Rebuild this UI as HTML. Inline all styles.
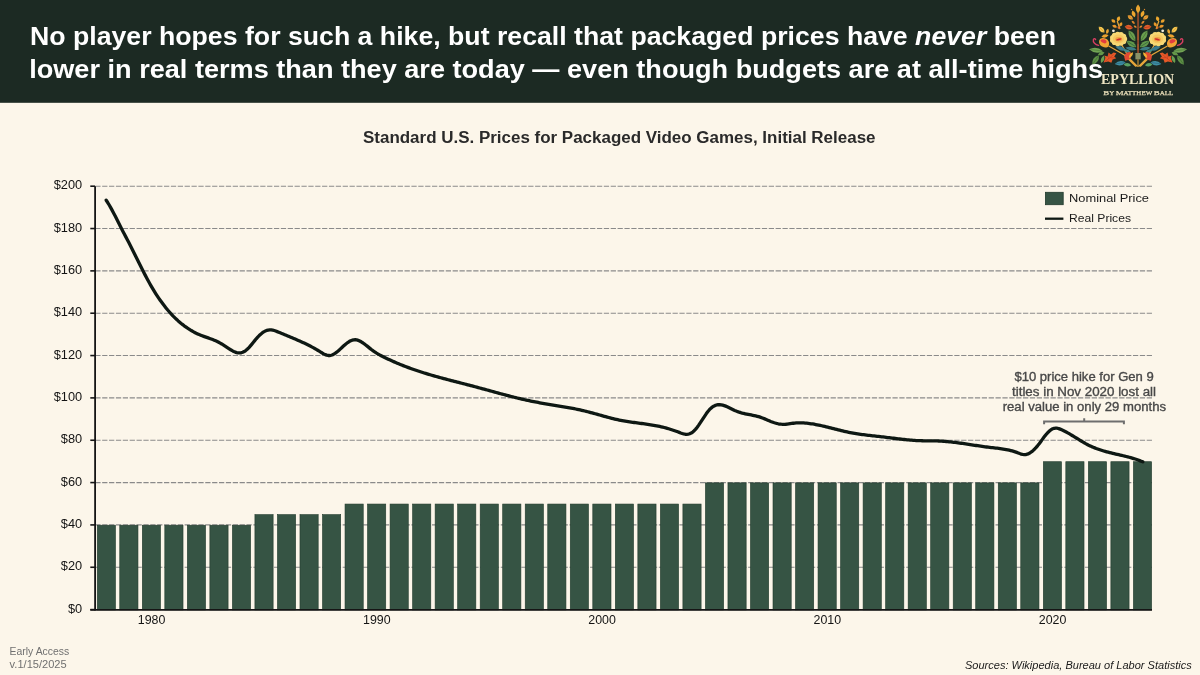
<!DOCTYPE html>
<html><head><meta charset="utf-8"><title>Packaged game prices</title>
<style>
html,body{margin:0;padding:0;width:1200px;height:675px;overflow:hidden;background:#fcf6ea;}
svg{display:block;font-family:"Liberation Sans",sans-serif;will-change:transform;}
</style></head><body>
<svg width="1200" height="675" viewBox="0 0 1200 675">
<rect x="0" y="0" width="1200" height="675" fill="#fcf6ea"/>
<rect x="0" y="0" width="1200" height="102.8" fill="#1c2a23"/>
<g>
<path d="M1108.7,46 L1124,54.8 L1136,66.5 M1121.7,44.8 L1129.4,58.4 L1137.5,66.5 M1120,29 L1117.2,21" stroke="#e6a63a" stroke-width="1.25" fill="none"/>
<path d="M-4.10,0 Q0,-4.40 4.10,0 Q0,4.40 -4.10,0Z" transform="translate(1101.6 29.6) rotate(-135)" fill="#f2c850"/><path d="M-3.28,0 L3.28,0" transform="translate(1101.6 29.6) rotate(-135)" stroke="#e09030" stroke-width="0.6"/>
<path d="M-2.70,0 Q0,-2.80 2.70,0 Q0,2.80 -2.70,0Z" transform="translate(1107.4 31.4) rotate(-75)" fill="#e9a532"/>
<path d="M-3.60,0 Q0,-3.20 3.60,0 Q0,3.20 -3.60,0Z" transform="translate(1105.0 36.0) rotate(170)" fill="#eca32e"/>
<path d="M-2.70,0 Q0,-3.40 2.70,0 Q0,3.40 -2.70,0Z" transform="translate(1118.5 18.9) rotate(-70)" fill="#eca82f"/>
<path d="M-2.50,0 Q0,-3.00 2.50,0 Q0,3.00 -2.50,0Z" transform="translate(1113.4 21.0) rotate(-140)" fill="#e9a02c"/>
<path d="M-2.50,0 Q0,-3.00 2.50,0 Q0,3.00 -2.50,0Z" transform="translate(1120.8 24.3) rotate(-60)" fill="#e8982a"/>
<path d="M-2.60,0 Q0,-3.00 2.60,0 Q0,3.00 -2.60,0Z" transform="translate(1114.6 26.3) rotate(-160)" fill="#e9962c"/>
<path d="M-1.70,0 Q0,-2.00 1.70,0 Q0,2.00 -1.70,0Z" transform="translate(1118.6 27.8) rotate(-120)" fill="#de6c2a"/>
<circle cx="1113.4" cy="30.8" r="1.4" fill="#f3ecdc"/>
<path d="M-3.60,0 Q0,-3.60 3.60,0 Q0,3.60 -3.60,0Z" transform="translate(1133.6 13.9) rotate(-110)" fill="#eda62f"/>
<path d="M-3.20,0 Q0,-3.80 3.20,0 Q0,3.80 -3.20,0Z" transform="translate(1130.3 17.4) rotate(-145)" fill="#eba434"/><path d="M-2.56,0 L2.56,0" transform="translate(1130.3 17.4) rotate(-145)" stroke="#c8702a" stroke-width="0.6"/>
<path d="M-2.20,0 Q0,-2.20 2.20,0 Q0,2.20 -2.20,0Z" transform="translate(1133.2 22.4) rotate(-135)" fill="#de842c"/>
<path d="M-4.20,0 Q0,-4.80 4.20,0 Q0,4.80 -4.20,0Z" transform="translate(1128.8 27.2) rotate(-170)" fill="#e2602a"/><path d="M-3.36,0 L3.36,0" transform="translate(1128.8 27.2) rotate(-170)" stroke="#a82a20" stroke-width="0.6"/>
<path d="M-1.80,0 Q0,-2.00 1.80,0 Q0,2.00 -1.80,0Z" transform="translate(1135.2 26.6) rotate(-150)" fill="#e08a30"/>
<circle cx="1131.6" cy="9.5" r="0.7" fill="#d8862a"/>
<path d="M-6.20,0 Q0,-5.60 6.20,0 Q0,5.60 -6.20,0Z" transform="translate(1132.0 35.8) rotate(-122)" fill="#6a9e4e"/><path d="M-4.96,0 L4.96,0" transform="translate(1132.0 35.8) rotate(-122)" stroke="#3e6a34" stroke-width="0.6"/>
<path d="M-5.70,0 Q0,-5.00 5.70,0 Q0,5.00 -5.70,0Z" transform="translate(1131.4 44.0) rotate(-148)" fill="#62984c"/><path d="M-4.56,0 L4.56,0" transform="translate(1131.4 44.0) rotate(-148)" stroke="#2c5a3a" stroke-width="0.6"/>
<path d="M-5.50,0 Q0,-3.80 5.50,0 Q0,3.80 -5.50,0Z" transform="translate(1120.6 48.4) rotate(20)" fill="#3a7a8c"/>
<path d="M-5.75,0 Q0,-3.60 5.75,0 Q0,3.60 -5.75,0Z" transform="translate(1131.0 48.6) rotate(-172)" fill="#3b7c86"/>
<path d="M-4.00,0 Q0,-3.00 4.00,0 Q0,3.00 -4.00,0Z" transform="translate(1127.0 51.0) rotate(20)" fill="#3e8a8a"/>
<path d="M-5.50,0 Q0,-4.40 5.50,0 Q0,4.40 -5.50,0Z" transform="translate(1120.2 63.2) rotate(-8)" fill="#3e8fa4"/><path d="M-4.40,0 L4.40,0" transform="translate(1120.2 63.2) rotate(-8)" stroke="#2a6078" stroke-width="0.6"/>
<path d="M-3.80,0 Q0,-3.40 3.80,0 Q0,3.40 -3.80,0Z" transform="translate(1127.4 64.8) rotate(5)" fill="#5aa262"/>
<path d="M-7.00,0 Q0,-4.80 7.00,0 Q0,4.80 -7.00,0Z" transform="translate(1096.0 50.2) rotate(8)" fill="#72a354"/><path d="M-5.60,0 L5.60,0" transform="translate(1096.0 50.2) rotate(8)" stroke="#4c7c3a" stroke-width="0.6"/>
<path d="M-3.50,0 Q0,-3.20 3.50,0 Q0,3.20 -3.50,0Z" transform="translate(1101.2 53.6) rotate(-20)" fill="#65984a"/>
<path d="M-5.75,0 Q0,-5.00 5.75,0 Q0,5.00 -5.75,0Z" transform="translate(1095.6 60.0) rotate(-55)" fill="#5e9046"/><path d="M-4.60,0 L4.60,0" transform="translate(1095.6 60.0) rotate(-55)" stroke="#3c6a30" stroke-width="0.6"/>
<path d="M-4.00,0 Q0,-3.20 4.00,0 Q0,3.20 -4.00,0Z" transform="translate(1102.6 59.2) rotate(-70)" fill="#6aa050"/>
<path d="M1103.6,62.6 L1105.4,57.8 L1104.2,55.6 L1107.6,56.4 L1108.6,52.4 L1111,54.6 L1113.6,52.6 L1116.4,53.2 L1114.2,56.4 L1116.2,58.2 L1112.6,59.6 L1111.4,62.8 L1108.2,61.4 Z" fill="#e65a28"/>
<path d="M1104.6,62 L1113.6,54.6 M1108.6,58.8 L1109.2,53.8 M1110.2,57.6 L1114.8,58" stroke="#b83020" stroke-width="0.5" fill="none"/>
<path d="M-5.20,0 Q0,-7.00 5.20,0 Q0,7.00 -5.20,0Z" transform="translate(1127.8 56.2) rotate(-60)" fill="#e04a32"/>
<path d="M-3.50,0 Q0,-2.60 3.50,0 Q0,2.60 -3.50,0Z" transform="translate(1131.0 55.2) rotate(-55)" fill="#f0b034"/>
<circle cx="1124.50" cy="38.90" r="2.7" fill="#f7d874"/>
<circle cx="1123.55" cy="41.39" r="2.7" fill="#f7d874"/>
<circle cx="1120.99" cy="43.08" r="2.7" fill="#f7d874"/>
<circle cx="1117.65" cy="43.45" r="2.7" fill="#f7d874"/>
<circle cx="1114.57" cy="42.38" r="2.7" fill="#f7d874"/>
<circle cx="1112.74" cy="40.20" r="2.7" fill="#f7d874"/>
<circle cx="1112.74" cy="37.60" r="2.7" fill="#f7d874"/>
<circle cx="1114.57" cy="35.42" r="2.7" fill="#f7d874"/>
<circle cx="1117.65" cy="34.35" r="2.7" fill="#f7d874"/>
<circle cx="1120.99" cy="34.72" r="2.7" fill="#f7d874"/>
<circle cx="1123.55" cy="36.41" r="2.7" fill="#f7d874"/>
<ellipse cx="1118.5" cy="38.9" rx="5.6" ry="4.4" fill="#f5c860"/>
<ellipse cx="1118.7" cy="39.3" rx="3.4" ry="2.2" fill="#f0a244"/>
<ellipse cx="1118.9" cy="39.4" rx="2.8" ry="0.9" transform="rotate(-12 1118.9 39.4)" fill="#cf2c2c"/>
<path d="M1099.2,40.4 C1100.5,37.5 1103.5,37.6 1106,38.8 C1108.8,40.2 1110,43.4 1108.4,46.4 C1106.6,48.4 1102.4,47.4 1100.6,45.6 C1099.4,44.2 1098.8,42.4 1099.2,40.4Z" fill="#f0a434"/>
<path d="M1100.4,40.4 C1102,38.8 1104.6,39.2 1106.2,40.6 C1107.2,41.8 1106.4,43.6 1104.8,43.4 C1103,43 1101.4,42.2 1100.4,40.4Z" fill="#e23c40"/>
<path d="M1098.6,45.4 C1095.4,44.6 1092.6,42.2 1093.4,39.6 C1094,38.2 1095.4,38.4 1095.6,39.6" stroke="#d63e62" stroke-width="1.4" fill="none" stroke-linecap="round"/>
</g>
<g transform="translate(2276.1 0) scale(-1 1)">
<path d="M1108.7,46 L1124,54.8 L1136,66.5 M1121.7,44.8 L1129.4,58.4 L1137.5,66.5 M1120,29 L1117.2,21" stroke="#e6a63a" stroke-width="1.25" fill="none"/>
<path d="M-4.10,0 Q0,-4.40 4.10,0 Q0,4.40 -4.10,0Z" transform="translate(1101.6 29.6) rotate(-135)" fill="#f2c850"/><path d="M-3.28,0 L3.28,0" transform="translate(1101.6 29.6) rotate(-135)" stroke="#e09030" stroke-width="0.6"/>
<path d="M-2.70,0 Q0,-2.80 2.70,0 Q0,2.80 -2.70,0Z" transform="translate(1107.4 31.4) rotate(-75)" fill="#e9a532"/>
<path d="M-3.60,0 Q0,-3.20 3.60,0 Q0,3.20 -3.60,0Z" transform="translate(1105.0 36.0) rotate(170)" fill="#eca32e"/>
<path d="M-2.70,0 Q0,-3.40 2.70,0 Q0,3.40 -2.70,0Z" transform="translate(1118.5 18.9) rotate(-70)" fill="#eca82f"/>
<path d="M-2.50,0 Q0,-3.00 2.50,0 Q0,3.00 -2.50,0Z" transform="translate(1113.4 21.0) rotate(-140)" fill="#e9a02c"/>
<path d="M-2.50,0 Q0,-3.00 2.50,0 Q0,3.00 -2.50,0Z" transform="translate(1120.8 24.3) rotate(-60)" fill="#e8982a"/>
<path d="M-2.60,0 Q0,-3.00 2.60,0 Q0,3.00 -2.60,0Z" transform="translate(1114.6 26.3) rotate(-160)" fill="#e9962c"/>
<path d="M-1.70,0 Q0,-2.00 1.70,0 Q0,2.00 -1.70,0Z" transform="translate(1118.6 27.8) rotate(-120)" fill="#de6c2a"/>
<circle cx="1113.4" cy="30.8" r="1.4" fill="#f3ecdc"/>
<path d="M-3.60,0 Q0,-3.60 3.60,0 Q0,3.60 -3.60,0Z" transform="translate(1133.6 13.9) rotate(-110)" fill="#eda62f"/>
<path d="M-3.20,0 Q0,-3.80 3.20,0 Q0,3.80 -3.20,0Z" transform="translate(1130.3 17.4) rotate(-145)" fill="#eba434"/><path d="M-2.56,0 L2.56,0" transform="translate(1130.3 17.4) rotate(-145)" stroke="#c8702a" stroke-width="0.6"/>
<path d="M-2.20,0 Q0,-2.20 2.20,0 Q0,2.20 -2.20,0Z" transform="translate(1133.2 22.4) rotate(-135)" fill="#de842c"/>
<path d="M-4.20,0 Q0,-4.80 4.20,0 Q0,4.80 -4.20,0Z" transform="translate(1128.8 27.2) rotate(-170)" fill="#e2602a"/><path d="M-3.36,0 L3.36,0" transform="translate(1128.8 27.2) rotate(-170)" stroke="#a82a20" stroke-width="0.6"/>
<path d="M-1.80,0 Q0,-2.00 1.80,0 Q0,2.00 -1.80,0Z" transform="translate(1135.2 26.6) rotate(-150)" fill="#e08a30"/>
<circle cx="1131.6" cy="9.5" r="0.7" fill="#d8862a"/>
<path d="M-6.20,0 Q0,-5.60 6.20,0 Q0,5.60 -6.20,0Z" transform="translate(1132.0 35.8) rotate(-122)" fill="#6a9e4e"/><path d="M-4.96,0 L4.96,0" transform="translate(1132.0 35.8) rotate(-122)" stroke="#3e6a34" stroke-width="0.6"/>
<path d="M-5.70,0 Q0,-5.00 5.70,0 Q0,5.00 -5.70,0Z" transform="translate(1131.4 44.0) rotate(-148)" fill="#62984c"/><path d="M-4.56,0 L4.56,0" transform="translate(1131.4 44.0) rotate(-148)" stroke="#2c5a3a" stroke-width="0.6"/>
<path d="M-5.50,0 Q0,-3.80 5.50,0 Q0,3.80 -5.50,0Z" transform="translate(1120.6 48.4) rotate(20)" fill="#3a7a8c"/>
<path d="M-5.75,0 Q0,-3.60 5.75,0 Q0,3.60 -5.75,0Z" transform="translate(1131.0 48.6) rotate(-172)" fill="#3b7c86"/>
<path d="M-4.00,0 Q0,-3.00 4.00,0 Q0,3.00 -4.00,0Z" transform="translate(1127.0 51.0) rotate(20)" fill="#3e8a8a"/>
<path d="M-5.50,0 Q0,-4.40 5.50,0 Q0,4.40 -5.50,0Z" transform="translate(1120.2 63.2) rotate(-8)" fill="#3e8fa4"/><path d="M-4.40,0 L4.40,0" transform="translate(1120.2 63.2) rotate(-8)" stroke="#2a6078" stroke-width="0.6"/>
<path d="M-3.80,0 Q0,-3.40 3.80,0 Q0,3.40 -3.80,0Z" transform="translate(1127.4 64.8) rotate(5)" fill="#5aa262"/>
<path d="M-7.00,0 Q0,-4.80 7.00,0 Q0,4.80 -7.00,0Z" transform="translate(1096.0 50.2) rotate(8)" fill="#72a354"/><path d="M-5.60,0 L5.60,0" transform="translate(1096.0 50.2) rotate(8)" stroke="#4c7c3a" stroke-width="0.6"/>
<path d="M-3.50,0 Q0,-3.20 3.50,0 Q0,3.20 -3.50,0Z" transform="translate(1101.2 53.6) rotate(-20)" fill="#65984a"/>
<path d="M-5.75,0 Q0,-5.00 5.75,0 Q0,5.00 -5.75,0Z" transform="translate(1095.6 60.0) rotate(-55)" fill="#5e9046"/><path d="M-4.60,0 L4.60,0" transform="translate(1095.6 60.0) rotate(-55)" stroke="#3c6a30" stroke-width="0.6"/>
<path d="M-4.00,0 Q0,-3.20 4.00,0 Q0,3.20 -4.00,0Z" transform="translate(1102.6 59.2) rotate(-70)" fill="#6aa050"/>
<path d="M1103.6,62.6 L1105.4,57.8 L1104.2,55.6 L1107.6,56.4 L1108.6,52.4 L1111,54.6 L1113.6,52.6 L1116.4,53.2 L1114.2,56.4 L1116.2,58.2 L1112.6,59.6 L1111.4,62.8 L1108.2,61.4 Z" fill="#e65a28"/>
<path d="M1104.6,62 L1113.6,54.6 M1108.6,58.8 L1109.2,53.8 M1110.2,57.6 L1114.8,58" stroke="#b83020" stroke-width="0.5" fill="none"/>
<path d="M-5.20,0 Q0,-7.00 5.20,0 Q0,7.00 -5.20,0Z" transform="translate(1127.8 56.2) rotate(-60)" fill="#e04a32"/>
<path d="M-3.50,0 Q0,-2.60 3.50,0 Q0,2.60 -3.50,0Z" transform="translate(1131.0 55.2) rotate(-55)" fill="#f0b034"/>
<circle cx="1124.50" cy="38.90" r="2.7" fill="#f7d874"/>
<circle cx="1123.55" cy="41.39" r="2.7" fill="#f7d874"/>
<circle cx="1120.99" cy="43.08" r="2.7" fill="#f7d874"/>
<circle cx="1117.65" cy="43.45" r="2.7" fill="#f7d874"/>
<circle cx="1114.57" cy="42.38" r="2.7" fill="#f7d874"/>
<circle cx="1112.74" cy="40.20" r="2.7" fill="#f7d874"/>
<circle cx="1112.74" cy="37.60" r="2.7" fill="#f7d874"/>
<circle cx="1114.57" cy="35.42" r="2.7" fill="#f7d874"/>
<circle cx="1117.65" cy="34.35" r="2.7" fill="#f7d874"/>
<circle cx="1120.99" cy="34.72" r="2.7" fill="#f7d874"/>
<circle cx="1123.55" cy="36.41" r="2.7" fill="#f7d874"/>
<ellipse cx="1118.5" cy="38.9" rx="5.6" ry="4.4" fill="#f5c860"/>
<ellipse cx="1118.7" cy="39.3" rx="3.4" ry="2.2" fill="#f0a244"/>
<ellipse cx="1118.9" cy="39.4" rx="2.8" ry="0.9" transform="rotate(-12 1118.9 39.4)" fill="#cf2c2c"/>
<path d="M1099.2,40.4 C1100.5,37.5 1103.5,37.6 1106,38.8 C1108.8,40.2 1110,43.4 1108.4,46.4 C1106.6,48.4 1102.4,47.4 1100.6,45.6 C1099.4,44.2 1098.8,42.4 1099.2,40.4Z" fill="#f0a434"/>
<path d="M1100.4,40.4 C1102,38.8 1104.6,39.2 1106.2,40.6 C1107.2,41.8 1106.4,43.6 1104.8,43.4 C1103,43 1101.4,42.2 1100.4,40.4Z" fill="#e23c40"/>
<path d="M1098.6,45.4 C1095.4,44.6 1092.6,42.2 1093.4,39.6 C1094,38.2 1095.4,38.4 1095.6,39.6" stroke="#d63e62" stroke-width="1.4" fill="none" stroke-linecap="round"/>
</g>
<rect x="1137.3" y="13" width="1.5" height="41" fill="#a8502c"/>
<path d="M1138,30 L1138,40 M1138,44 L1138,50" stroke="#c8763a" stroke-width="0.6"/>
<path d="M-4.50,0 Q0,-4.20 4.50,0 Q0,4.20 -4.50,0Z" transform="translate(1138.05 8.9) rotate(-90)" fill="#f1ae34"/><path d="M-3.60,0 L3.60,0" transform="translate(1138.05 8.9) rotate(-90)" stroke="#d88a28" stroke-width="0.6"/>
<rect x="1135.4" y="53" width="5.3" height="6.4" fill="#8a9266"/>
<path d="M1138,59.4 L1138,67" stroke="#e3a23a" stroke-width="1"/>
<text x="1101" y="84.2" font-family="Liberation Serif, serif" font-weight="bold" font-size="14.2" fill="#efe6c4" textLength="73.2" lengthAdjust="spacingAndGlyphs">EPYLLION</text>
<text x="1103.3" y="95.1" font-family="Liberation Serif, serif" font-weight="normal" stroke="#e8ddb8" stroke-width="0.25" fill="#e8ddb8" textLength="70" lengthAdjust="spacingAndGlyphs"><tspan font-size="7.0">B</tspan><tspan font-size="5.5">Y </tspan><tspan font-size="7.0">M</tspan><tspan font-size="5.5">ATTHEW </tspan><tspan font-size="7.0">B</tspan><tspan font-size="5.5">ALL</tspan></text>
<text x="30" y="45" font-size="25.6" font-weight="bold" fill="#ffffff" textLength="1026" lengthAdjust="spacingAndGlyphs">No player hopes for such a hike, but recall that packaged prices have <tspan font-style="italic">never</tspan> been</text>
<text x="29.2" y="77.5" font-size="25.6" font-weight="bold" fill="#ffffff" textLength="1074" lengthAdjust="spacingAndGlyphs">lower in real terms than they are today — even though budgets are at all-time highs</text>
<text x="363" y="142.7" font-size="16" font-weight="bold" fill="#2a2a2a" textLength="512.5" lengthAdjust="spacingAndGlyphs">Standard U.S. Prices for Packaged Video Games, Initial Release</text>
<line x1="95.3" y1="567.26" x2="1152" y2="567.26" stroke="#8a8a8a" stroke-width="1.1" stroke-dasharray="5.25 1.622"/>
<line x1="95.3" y1="524.92" x2="1152" y2="524.92" stroke="#8a8a8a" stroke-width="1.1" stroke-dasharray="5.25 1.622"/>
<line x1="95.3" y1="482.58" x2="1152" y2="482.58" stroke="#8a8a8a" stroke-width="1.1" stroke-dasharray="5.25 1.622"/>
<line x1="95.3" y1="440.24" x2="1152" y2="440.24" stroke="#8a8a8a" stroke-width="1.1" stroke-dasharray="5.25 1.622"/>
<line x1="95.3" y1="397.90" x2="1152" y2="397.90" stroke="#8a8a8a" stroke-width="1.1" stroke-dasharray="5.25 1.622"/>
<line x1="95.3" y1="355.56" x2="1152" y2="355.56" stroke="#8a8a8a" stroke-width="1.1" stroke-dasharray="5.25 1.622"/>
<line x1="95.3" y1="313.22" x2="1152" y2="313.22" stroke="#8a8a8a" stroke-width="1.1" stroke-dasharray="5.25 1.622"/>
<line x1="95.3" y1="270.88" x2="1152" y2="270.88" stroke="#8a8a8a" stroke-width="1.1" stroke-dasharray="5.25 1.622"/>
<line x1="95.3" y1="228.54" x2="1152" y2="228.54" stroke="#8a8a8a" stroke-width="1.1" stroke-dasharray="5.25 1.622"/>
<line x1="95.3" y1="186.20" x2="1152" y2="186.20" stroke="#8a8a8a" stroke-width="1.1" stroke-dasharray="5.25 1.622"/>
<rect x="97.25" y="525.22" width="18.20" height="84.68" fill="#365444" stroke="#213a2c" stroke-width="0.6"/>
<rect x="119.77" y="525.22" width="18.20" height="84.68" fill="#365444" stroke="#213a2c" stroke-width="0.6"/>
<rect x="142.30" y="525.22" width="18.20" height="84.68" fill="#365444" stroke="#213a2c" stroke-width="0.6"/>
<rect x="164.82" y="525.22" width="18.20" height="84.68" fill="#365444" stroke="#213a2c" stroke-width="0.6"/>
<rect x="187.35" y="525.22" width="18.20" height="84.68" fill="#365444" stroke="#213a2c" stroke-width="0.6"/>
<rect x="209.88" y="525.22" width="18.20" height="84.68" fill="#365444" stroke="#213a2c" stroke-width="0.6"/>
<rect x="232.40" y="525.22" width="18.20" height="84.68" fill="#365444" stroke="#213a2c" stroke-width="0.6"/>
<rect x="254.92" y="514.63" width="18.20" height="95.26" fill="#365444" stroke="#213a2c" stroke-width="0.6"/>
<rect x="277.45" y="514.63" width="18.20" height="95.26" fill="#365444" stroke="#213a2c" stroke-width="0.6"/>
<rect x="299.98" y="514.63" width="18.20" height="95.26" fill="#365444" stroke="#213a2c" stroke-width="0.6"/>
<rect x="322.50" y="514.63" width="18.20" height="95.26" fill="#365444" stroke="#213a2c" stroke-width="0.6"/>
<rect x="345.03" y="504.05" width="18.20" height="105.85" fill="#365444" stroke="#213a2c" stroke-width="0.6"/>
<rect x="367.55" y="504.05" width="18.20" height="105.85" fill="#365444" stroke="#213a2c" stroke-width="0.6"/>
<rect x="390.07" y="504.05" width="18.20" height="105.85" fill="#365444" stroke="#213a2c" stroke-width="0.6"/>
<rect x="412.60" y="504.05" width="18.20" height="105.85" fill="#365444" stroke="#213a2c" stroke-width="0.6"/>
<rect x="435.13" y="504.05" width="18.20" height="105.85" fill="#365444" stroke="#213a2c" stroke-width="0.6"/>
<rect x="457.65" y="504.05" width="18.20" height="105.85" fill="#365444" stroke="#213a2c" stroke-width="0.6"/>
<rect x="480.18" y="504.05" width="18.20" height="105.85" fill="#365444" stroke="#213a2c" stroke-width="0.6"/>
<rect x="502.70" y="504.05" width="18.20" height="105.85" fill="#365444" stroke="#213a2c" stroke-width="0.6"/>
<rect x="525.22" y="504.05" width="18.20" height="105.85" fill="#365444" stroke="#213a2c" stroke-width="0.6"/>
<rect x="547.75" y="504.05" width="18.20" height="105.85" fill="#365444" stroke="#213a2c" stroke-width="0.6"/>
<rect x="570.27" y="504.05" width="18.20" height="105.85" fill="#365444" stroke="#213a2c" stroke-width="0.6"/>
<rect x="592.80" y="504.05" width="18.20" height="105.85" fill="#365444" stroke="#213a2c" stroke-width="0.6"/>
<rect x="615.32" y="504.05" width="18.20" height="105.85" fill="#365444" stroke="#213a2c" stroke-width="0.6"/>
<rect x="637.85" y="504.05" width="18.20" height="105.85" fill="#365444" stroke="#213a2c" stroke-width="0.6"/>
<rect x="660.38" y="504.05" width="18.20" height="105.85" fill="#365444" stroke="#213a2c" stroke-width="0.6"/>
<rect x="682.90" y="504.05" width="18.20" height="105.85" fill="#365444" stroke="#213a2c" stroke-width="0.6"/>
<rect x="705.42" y="482.88" width="18.20" height="127.02" fill="#365444" stroke="#213a2c" stroke-width="0.6"/>
<rect x="727.95" y="482.88" width="18.20" height="127.02" fill="#365444" stroke="#213a2c" stroke-width="0.6"/>
<rect x="750.47" y="482.88" width="18.20" height="127.02" fill="#365444" stroke="#213a2c" stroke-width="0.6"/>
<rect x="773.00" y="482.88" width="18.20" height="127.02" fill="#365444" stroke="#213a2c" stroke-width="0.6"/>
<rect x="795.52" y="482.88" width="18.20" height="127.02" fill="#365444" stroke="#213a2c" stroke-width="0.6"/>
<rect x="818.05" y="482.88" width="18.20" height="127.02" fill="#365444" stroke="#213a2c" stroke-width="0.6"/>
<rect x="840.57" y="482.88" width="18.20" height="127.02" fill="#365444" stroke="#213a2c" stroke-width="0.6"/>
<rect x="863.10" y="482.88" width="18.20" height="127.02" fill="#365444" stroke="#213a2c" stroke-width="0.6"/>
<rect x="885.62" y="482.88" width="18.20" height="127.02" fill="#365444" stroke="#213a2c" stroke-width="0.6"/>
<rect x="908.15" y="482.88" width="18.20" height="127.02" fill="#365444" stroke="#213a2c" stroke-width="0.6"/>
<rect x="930.67" y="482.88" width="18.20" height="127.02" fill="#365444" stroke="#213a2c" stroke-width="0.6"/>
<rect x="953.20" y="482.88" width="18.20" height="127.02" fill="#365444" stroke="#213a2c" stroke-width="0.6"/>
<rect x="975.72" y="482.88" width="18.20" height="127.02" fill="#365444" stroke="#213a2c" stroke-width="0.6"/>
<rect x="998.25" y="482.88" width="18.20" height="127.02" fill="#365444" stroke="#213a2c" stroke-width="0.6"/>
<rect x="1020.77" y="482.88" width="18.20" height="127.02" fill="#365444" stroke="#213a2c" stroke-width="0.6"/>
<rect x="1043.30" y="461.71" width="18.20" height="148.19" fill="#365444" stroke="#213a2c" stroke-width="0.6"/>
<rect x="1065.82" y="461.71" width="18.20" height="148.19" fill="#365444" stroke="#213a2c" stroke-width="0.6"/>
<rect x="1088.35" y="461.71" width="18.20" height="148.19" fill="#365444" stroke="#213a2c" stroke-width="0.6"/>
<rect x="1110.87" y="461.71" width="18.20" height="148.19" fill="#365444" stroke="#213a2c" stroke-width="0.6"/>
<rect x="1133.40" y="461.71" width="18.20" height="148.19" fill="#365444" stroke="#213a2c" stroke-width="0.6"/>
<line x1="95.1" y1="186.3" x2="95.1" y2="610.6" stroke="#151515" stroke-width="1.8"/>
<line x1="90.3" y1="609.85" x2="1152" y2="609.85" stroke="#151515" stroke-width="1.6"/>
<line x1="90.3" y1="609.60" x2="95" y2="609.60" stroke="#151515" stroke-width="1.6"/>
<text x="82.2" y="612.70" font-size="12.8" text-anchor="end" fill="#141414">$0</text>
<line x1="90.3" y1="567.26" x2="95" y2="567.26" stroke="#151515" stroke-width="1.6"/>
<text x="82.2" y="570.36" font-size="12.8" text-anchor="end" fill="#141414">$20</text>
<line x1="90.3" y1="524.92" x2="95" y2="524.92" stroke="#151515" stroke-width="1.6"/>
<text x="82.2" y="528.02" font-size="12.8" text-anchor="end" fill="#141414">$40</text>
<line x1="90.3" y1="482.58" x2="95" y2="482.58" stroke="#151515" stroke-width="1.6"/>
<text x="82.2" y="485.68" font-size="12.8" text-anchor="end" fill="#141414">$60</text>
<line x1="90.3" y1="440.24" x2="95" y2="440.24" stroke="#151515" stroke-width="1.6"/>
<text x="82.2" y="443.34" font-size="12.8" text-anchor="end" fill="#141414">$80</text>
<line x1="90.3" y1="397.90" x2="95" y2="397.90" stroke="#151515" stroke-width="1.6"/>
<text x="82.2" y="401.00" font-size="12.8" text-anchor="end" fill="#141414">$100</text>
<line x1="90.3" y1="355.56" x2="95" y2="355.56" stroke="#151515" stroke-width="1.6"/>
<text x="82.2" y="358.66" font-size="12.8" text-anchor="end" fill="#141414">$120</text>
<line x1="90.3" y1="313.22" x2="95" y2="313.22" stroke="#151515" stroke-width="1.6"/>
<text x="82.2" y="316.32" font-size="12.8" text-anchor="end" fill="#141414">$140</text>
<line x1="90.3" y1="270.88" x2="95" y2="270.88" stroke="#151515" stroke-width="1.6"/>
<text x="82.2" y="273.98" font-size="12.8" text-anchor="end" fill="#141414">$160</text>
<line x1="90.3" y1="228.54" x2="95" y2="228.54" stroke="#151515" stroke-width="1.6"/>
<text x="82.2" y="231.64" font-size="12.8" text-anchor="end" fill="#141414">$180</text>
<line x1="90.3" y1="186.20" x2="95" y2="186.20" stroke="#151515" stroke-width="1.6"/>
<text x="82.2" y="189.30" font-size="12.8" text-anchor="end" fill="#141414">$200</text>
<text x="137.80" y="624.3" font-size="12.6" fill="#141414" textLength="27.6" lengthAdjust="spacingAndGlyphs">1980</text>
<text x="363.05" y="624.3" font-size="12.6" fill="#141414" textLength="27.6" lengthAdjust="spacingAndGlyphs">1990</text>
<text x="588.30" y="624.3" font-size="12.6" fill="#141414" textLength="27.6" lengthAdjust="spacingAndGlyphs">2000</text>
<text x="813.55" y="624.3" font-size="12.6" fill="#141414" textLength="27.6" lengthAdjust="spacingAndGlyphs">2010</text>
<text x="1038.80" y="624.3" font-size="12.6" fill="#141414" textLength="27.6" lengthAdjust="spacingAndGlyphs">2020</text>
<path d="M106.20,200.23 L107.70,202.52 L109.20,204.99 L110.70,207.61 L112.20,210.36 L113.70,213.20 L115.20,216.12 L116.70,219.09 L118.20,222.07 L119.70,225.05 L121.20,228.00 L122.70,230.90 L124.20,233.77 L125.70,236.61 L127.20,239.45 L128.70,242.32 L130.20,245.22 L131.70,248.17 L133.20,251.16 L134.70,254.18 L136.20,257.20 L137.70,260.24 L139.20,263.27 L140.70,266.28 L142.20,269.27 L143.70,272.23 L145.20,275.13 L146.70,277.98 L148.20,280.77 L149.70,283.48 L151.20,286.10 L152.70,288.65 L154.20,291.12 L155.70,293.51 L157.20,295.82 L158.70,298.06 L160.20,300.23 L161.70,302.32 L163.20,304.34 L164.70,306.29 L166.20,308.17 L167.70,309.99 L169.20,311.73 L170.70,313.42 L172.20,315.03 L173.70,316.59 L175.20,318.08 L176.70,319.51 L178.20,320.89 L179.70,322.20 L181.20,323.46 L182.70,324.66 L184.20,325.81 L185.70,326.90 L187.20,327.95 L188.70,328.94 L190.20,329.88 L191.70,330.77 L193.20,331.62 L194.70,332.42 L196.20,333.18 L197.70,333.89 L199.20,334.56 L200.70,335.18 L202.20,335.77 L203.70,336.33 L205.20,336.87 L206.70,337.40 L208.20,337.93 L209.70,338.46 L211.20,339.00 L212.70,339.57 L214.20,340.17 L215.70,340.82 L217.20,341.51 L218.70,342.27 L220.20,343.09 L221.70,343.97 L223.20,344.90 L224.70,345.86 L226.20,346.84 L227.70,347.82 L229.20,348.80 L230.70,349.75 L232.20,350.64 L233.70,351.44 L235.20,352.10 L236.70,352.61 L238.20,352.91 L239.70,352.97 L241.20,352.76 L242.70,352.28 L244.20,351.53 L245.70,350.54 L247.20,349.30 L248.70,347.83 L250.20,346.16 L251.70,344.36 L253.20,342.48 L254.70,340.60 L256.20,338.79 L257.70,337.10 L259.20,335.56 L260.70,334.18 L262.20,332.96 L263.70,331.93 L265.20,331.10 L266.70,330.46 L268.20,330.04 L269.70,329.85 L271.20,329.88 L272.70,330.12 L274.20,330.52 L275.70,331.03 L277.20,331.61 L278.70,332.22 L280.20,332.83 L281.70,333.45 L283.20,334.06 L284.70,334.68 L286.20,335.30 L287.70,335.92 L289.20,336.55 L290.70,337.18 L292.20,337.81 L293.70,338.45 L295.20,339.09 L296.70,339.74 L298.20,340.40 L299.70,341.06 L301.20,341.73 L302.70,342.42 L304.20,343.11 L305.70,343.83 L307.20,344.55 L308.70,345.30 L310.20,346.07 L311.70,346.86 L313.20,347.67 L314.70,348.50 L316.20,349.36 L317.70,350.25 L319.20,351.17 L320.70,352.11 L322.20,353.03 L323.70,353.88 L325.20,354.61 L326.70,355.16 L328.20,355.48 L329.70,355.52 L331.20,355.25 L332.70,354.70 L334.20,353.91 L335.70,352.91 L337.20,351.76 L338.70,350.48 L340.20,349.12 L341.70,347.73 L343.20,346.33 L344.70,344.98 L346.20,343.71 L347.70,342.56 L349.20,341.58 L350.70,340.78 L352.20,340.19 L353.70,339.84 L355.20,339.76 L356.70,339.94 L358.20,340.36 L359.70,340.99 L361.20,341.79 L362.70,342.74 L364.20,343.80 L365.70,344.95 L367.20,346.15 L368.70,347.38 L370.20,348.61 L371.70,349.80 L373.20,350.92 L374.70,351.96 L376.20,352.92 L377.70,353.80 L379.20,354.64 L380.70,355.43 L382.20,356.20 L383.70,356.96 L385.20,357.70 L386.70,358.43 L388.20,359.14 L389.70,359.84 L391.20,360.53 L392.70,361.21 L394.20,361.87 L395.70,362.53 L397.20,363.17 L398.70,363.80 L400.20,364.41 L401.70,365.02 L403.20,365.62 L404.70,366.20 L406.20,366.78 L407.70,367.35 L409.20,367.90 L410.70,368.45 L412.20,368.99 L413.70,369.51 L415.20,370.03 L416.70,370.54 L418.20,371.04 L419.70,371.54 L421.20,372.02 L422.70,372.50 L424.20,372.97 L425.70,373.44 L427.20,373.90 L428.70,374.35 L430.20,374.79 L431.70,375.23 L433.20,375.66 L434.70,376.09 L436.20,376.51 L437.70,376.93 L439.20,377.34 L440.70,377.75 L442.20,378.16 L443.70,378.56 L445.20,378.96 L446.70,379.36 L448.20,379.75 L449.70,380.15 L451.20,380.54 L452.70,380.92 L454.20,381.31 L455.70,381.70 L457.20,382.08 L458.70,382.47 L460.20,382.85 L461.70,383.24 L463.20,383.62 L464.70,384.01 L466.20,384.40 L467.70,384.79 L469.20,385.18 L470.70,385.57 L472.20,385.96 L473.70,386.36 L475.20,386.76 L476.70,387.16 L478.20,387.57 L479.70,387.98 L481.20,388.39 L482.70,388.80 L484.20,389.21 L485.70,389.62 L487.20,390.03 L488.70,390.44 L490.20,390.86 L491.70,391.27 L493.20,391.68 L494.70,392.09 L496.20,392.51 L497.70,392.91 L499.20,393.32 L500.70,393.73 L502.20,394.13 L503.70,394.53 L505.20,394.93 L506.70,395.33 L508.20,395.72 L509.70,396.11 L511.20,396.50 L512.70,396.88 L514.20,397.25 L515.70,397.63 L517.20,397.99 L518.70,398.36 L520.20,398.71 L521.70,399.07 L523.20,399.41 L524.70,399.75 L526.20,400.09 L527.70,400.41 L529.20,400.73 L530.70,401.04 L532.20,401.35 L533.70,401.65 L535.20,401.93 L536.70,402.22 L538.20,402.49 L539.70,402.77 L541.20,403.03 L542.70,403.29 L544.20,403.55 L545.70,403.80 L547.20,404.05 L548.70,404.30 L550.20,404.55 L551.70,404.79 L553.20,405.04 L554.70,405.28 L556.20,405.53 L557.70,405.77 L559.20,406.02 L560.70,406.27 L562.20,406.52 L563.70,406.77 L565.20,407.03 L566.70,407.30 L568.20,407.56 L569.70,407.84 L571.20,408.12 L572.70,408.40 L574.20,408.70 L575.70,409.00 L577.20,409.31 L578.70,409.63 L580.20,409.95 L581.70,410.29 L583.20,410.64 L584.70,411.00 L586.20,411.37 L587.70,411.75 L589.20,412.14 L590.70,412.54 L592.20,412.94 L593.70,413.35 L595.20,413.77 L596.70,414.19 L598.20,414.61 L599.70,415.03 L601.20,415.46 L602.70,415.88 L604.20,416.29 L605.70,416.71 L607.20,417.11 L608.70,417.52 L610.20,417.91 L611.70,418.29 L613.20,418.67 L614.70,419.03 L616.20,419.38 L617.70,419.72 L619.20,420.04 L620.70,420.34 L622.20,420.63 L623.70,420.90 L625.20,421.16 L626.70,421.41 L628.20,421.64 L629.70,421.87 L631.20,422.08 L632.70,422.29 L634.20,422.50 L635.70,422.70 L637.20,422.90 L638.70,423.09 L640.20,423.29 L641.70,423.49 L643.20,423.69 L644.70,423.89 L646.20,424.10 L647.70,424.31 L649.20,424.54 L650.70,424.77 L652.20,425.01 L653.70,425.27 L655.20,425.54 L656.70,425.82 L658.20,426.13 L659.70,426.44 L661.20,426.78 L662.70,427.14 L664.20,427.52 L665.70,427.92 L667.20,428.33 L668.70,428.77 L670.20,429.23 L671.70,429.71 L673.20,430.20 L674.70,430.72 L676.20,431.25 L677.70,431.80 L679.20,432.37 L680.70,432.95 L682.20,433.49 L683.70,433.94 L685.20,434.24 L686.70,434.34 L688.20,434.20 L689.70,433.77 L691.20,433.05 L692.70,432.03 L694.20,430.72 L695.70,429.10 L697.20,427.22 L698.70,425.15 L700.20,422.93 L701.70,420.64 L703.20,418.32 L704.70,416.04 L706.20,413.85 L707.70,411.81 L709.20,409.97 L710.70,408.39 L712.20,407.12 L713.70,406.14 L715.20,405.43 L716.70,404.97 L718.20,404.74 L719.70,404.70 L721.20,404.85 L722.70,405.15 L724.20,405.58 L725.70,406.12 L727.20,406.75 L728.70,407.45 L730.20,408.18 L731.70,408.93 L733.20,409.68 L734.70,410.40 L736.20,411.06 L737.70,411.66 L739.20,412.19 L740.70,412.65 L742.20,413.07 L743.70,413.44 L745.20,413.78 L746.70,414.10 L748.20,414.40 L749.70,414.68 L751.20,414.97 L752.70,415.27 L754.20,415.58 L755.70,415.92 L757.20,416.29 L758.70,416.70 L760.20,417.16 L761.70,417.69 L763.20,418.26 L764.70,418.88 L766.20,419.52 L767.70,420.16 L769.20,420.81 L770.70,421.43 L772.20,422.01 L773.70,422.54 L775.20,423.01 L776.70,423.42 L778.20,423.76 L779.70,424.02 L781.20,424.21 L782.70,424.31 L784.20,424.32 L785.70,424.25 L787.20,424.10 L788.70,423.91 L790.20,423.69 L791.70,423.46 L793.20,423.24 L794.70,423.07 L796.20,422.94 L797.70,422.87 L799.20,422.83 L800.70,422.84 L802.20,422.88 L803.70,422.96 L805.20,423.07 L806.70,423.20 L808.20,423.36 L809.70,423.55 L811.20,423.76 L812.70,423.99 L814.20,424.24 L815.70,424.51 L817.20,424.80 L818.70,425.10 L820.20,425.42 L821.70,425.75 L823.20,426.09 L824.70,426.44 L826.20,426.81 L827.70,427.17 L829.20,427.55 L830.70,427.93 L832.20,428.31 L833.70,428.69 L835.20,429.07 L836.70,429.46 L838.20,429.83 L839.70,430.21 L841.20,430.58 L842.70,430.94 L844.20,431.29 L845.70,431.63 L847.20,431.96 L848.70,432.27 L850.20,432.58 L851.70,432.86 L853.20,433.14 L854.70,433.40 L856.20,433.64 L857.70,433.88 L859.20,434.11 L860.70,434.32 L862.20,434.53 L863.70,434.73 L865.20,434.92 L866.70,435.11 L868.20,435.29 L869.70,435.46 L871.20,435.64 L872.70,435.81 L874.20,435.97 L875.70,436.14 L877.20,436.30 L878.70,436.47 L880.20,436.64 L881.70,436.81 L883.20,436.98 L884.70,437.15 L886.20,437.33 L887.70,437.52 L889.20,437.70 L890.70,437.89 L892.20,438.08 L893.70,438.26 L895.20,438.45 L896.70,438.63 L898.20,438.82 L899.70,439.00 L901.20,439.17 L902.70,439.34 L904.20,439.51 L905.70,439.67 L907.20,439.82 L908.70,439.96 L910.20,440.10 L911.70,440.22 L913.20,440.34 L914.70,440.44 L916.20,440.53 L917.70,440.61 L919.20,440.67 L920.70,440.72 L922.20,440.76 L923.70,440.79 L925.20,440.80 L926.70,440.82 L928.20,440.82 L929.70,440.83 L931.20,440.84 L932.70,440.86 L934.20,440.88 L935.70,440.91 L937.20,440.95 L938.70,441.01 L940.20,441.08 L941.70,441.17 L943.20,441.27 L944.70,441.38 L946.20,441.50 L947.70,441.64 L949.20,441.79 L950.70,441.94 L952.20,442.11 L953.70,442.28 L955.20,442.47 L956.70,442.66 L958.20,442.85 L959.70,443.06 L961.20,443.26 L962.70,443.48 L964.20,443.70 L965.70,443.92 L967.20,444.14 L968.70,444.36 L970.20,444.59 L971.70,444.82 L973.20,445.05 L974.70,445.27 L976.20,445.50 L977.70,445.72 L979.20,445.94 L980.70,446.16 L982.20,446.38 L983.70,446.59 L985.20,446.79 L986.70,446.99 L988.20,447.18 L989.70,447.36 L991.20,447.54 L992.70,447.71 L994.20,447.88 L995.70,448.05 L997.20,448.22 L998.70,448.41 L1000.20,448.60 L1001.70,448.81 L1003.20,449.03 L1004.70,449.28 L1006.20,449.55 L1007.70,449.85 L1009.20,450.18 L1010.70,450.54 L1012.20,450.95 L1013.70,451.39 L1015.20,451.87 L1016.70,452.41 L1018.20,452.99 L1019.70,453.56 L1021.20,454.07 L1022.70,454.45 L1024.20,454.64 L1025.70,454.57 L1027.20,454.23 L1028.70,453.63 L1030.20,452.78 L1031.70,451.71 L1033.20,450.44 L1034.70,448.98 L1036.20,447.36 L1037.70,445.59 L1039.20,443.69 L1040.70,441.68 L1042.20,439.60 L1043.70,437.55 L1045.20,435.59 L1046.70,433.79 L1048.20,432.18 L1049.70,430.79 L1051.20,429.66 L1052.70,428.81 L1054.20,428.28 L1055.70,428.10 L1057.20,428.23 L1058.70,428.60 L1060.20,429.14 L1061.70,429.78 L1063.20,430.47 L1064.70,431.22 L1066.20,432.01 L1067.70,432.83 L1069.20,433.69 L1070.70,434.57 L1072.20,435.48 L1073.70,436.40 L1075.20,437.33 L1076.70,438.26 L1078.20,439.19 L1079.70,440.12 L1081.20,441.03 L1082.70,441.92 L1084.20,442.79 L1085.70,443.64 L1087.20,444.44 L1088.70,445.21 L1090.20,445.93 L1091.70,446.62 L1093.20,447.27 L1094.70,447.88 L1096.20,448.47 L1097.70,449.02 L1099.20,449.54 L1100.70,450.04 L1102.20,450.51 L1103.70,450.96 L1105.20,451.39 L1106.70,451.81 L1108.20,452.20 L1109.70,452.59 L1111.20,452.96 L1112.70,453.32 L1114.20,453.68 L1115.70,454.03 L1117.20,454.37 L1118.70,454.72 L1120.20,455.07 L1121.70,455.41 L1123.20,455.77 L1124.70,456.13 L1126.20,456.50 L1127.70,456.88 L1129.20,457.28 L1130.70,457.69 L1132.20,458.12 L1133.70,458.57 L1135.20,459.04 L1136.70,459.54 L1138.20,460.06 L1139.70,460.61 L1141.20,461.19 L1142.70,461.80 L1142.80,461.84" fill="none" stroke="#0e1813" stroke-width="3.3" stroke-linecap="round" stroke-linejoin="round"/>
<rect x="1045.4" y="192.3" width="17.8" height="12.4" fill="#365444" stroke="#213a2c" stroke-width="0.8"/>
<text x="1069" y="202.2" font-size="11.5" fill="#1a1a1a" textLength="80" lengthAdjust="spacingAndGlyphs">Nominal Price</text>
<line x1="1045" y1="218.7" x2="1063.4" y2="218.7" stroke="#0e1813" stroke-width="2.3"/>
<text x="1069" y="222.2" font-size="11.5" fill="#1a1a1a" textLength="62" lengthAdjust="spacingAndGlyphs">Real Prices</text>
<g fill="#484848" stroke="#484848" stroke-width="0.35" font-size="12.5">
<text x="1014.4" y="381.2" textLength="139.3" lengthAdjust="spacingAndGlyphs">$10 price hike for Gen 9</text>
<text x="1012" y="395.8" textLength="144" lengthAdjust="spacingAndGlyphs">titles in Nov 2020 lost all</text>
<text x="1002.7" y="410.5" textLength="163.3" lengthAdjust="spacingAndGlyphs">real value in only 29 months</text>
</g>
<path d="M1044.1,424.2 V421.4 H1123.9 V424.2 M1084.2,421.4 V418.2" fill="none" stroke="#6e6e6e" stroke-width="2"/>
<text x="9.6" y="655" font-size="10.5" fill="#707070" textLength="59.6" lengthAdjust="spacingAndGlyphs">Early Access</text>
<text x="9.6" y="668.3" font-size="10.5" fill="#707070" textLength="57.1" lengthAdjust="spacingAndGlyphs">v.1/15/2025</text>
<text x="965" y="668.75" font-size="11" font-style="italic" fill="#1a1a1a" textLength="226.7" lengthAdjust="spacingAndGlyphs">Sources: Wikipedia, Bureau of Labor Statistics</text>

</svg>
</body></html>
